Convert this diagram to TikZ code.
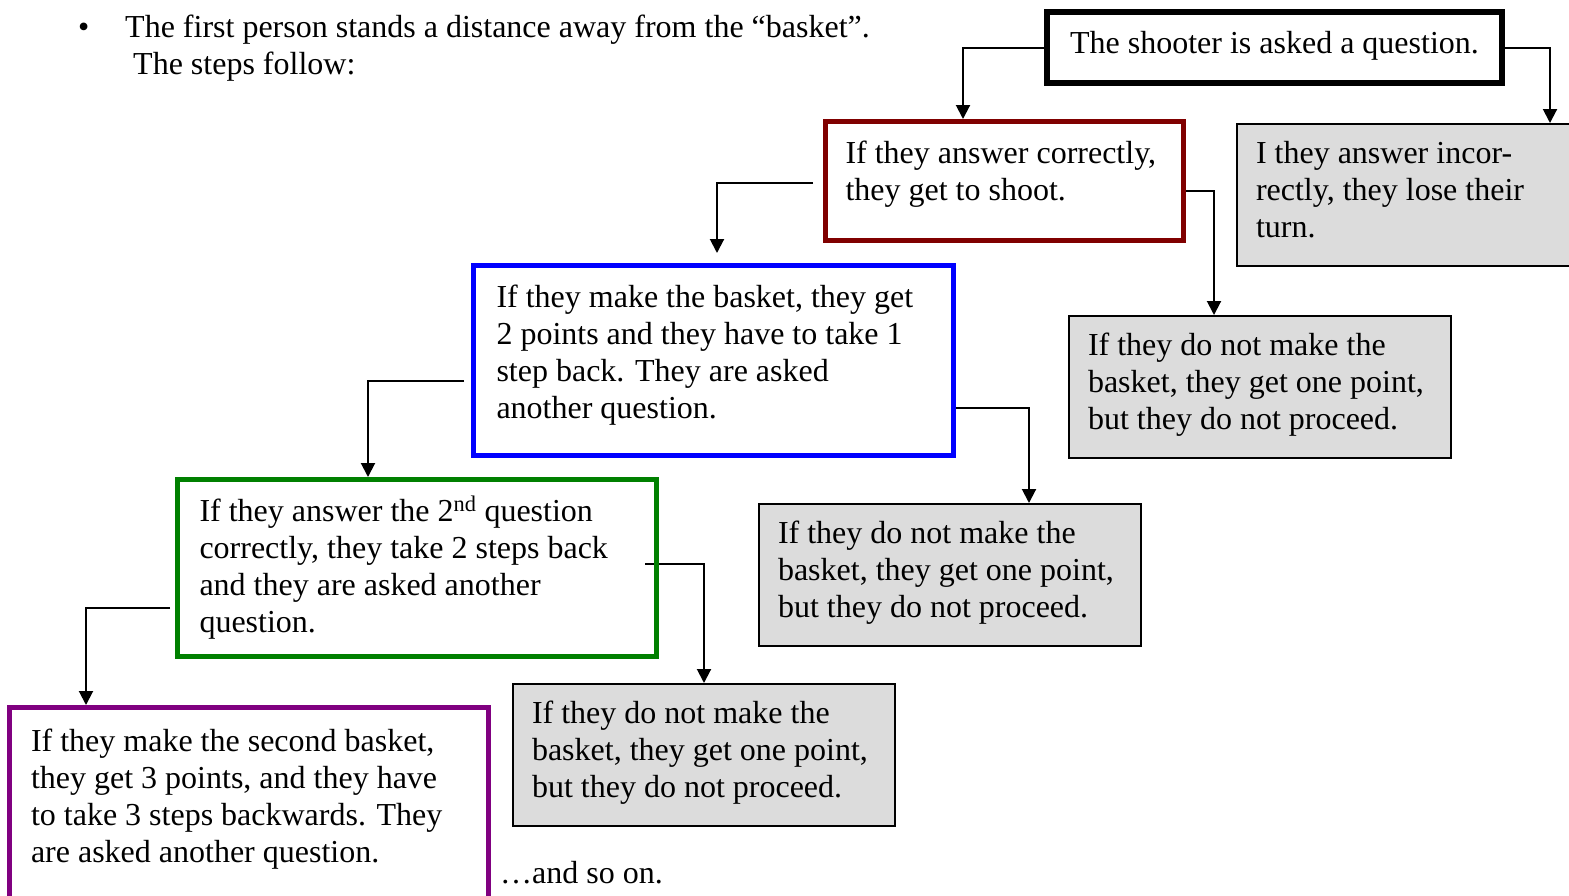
\documentclass[tikz,border=0pt]{standalone}
\usepackage[svgnames]{xcolor}
\usepackage{fontspec}
\setmainfont{Liberation Serif}
\usetikzlibrary{arrows.meta}
\tikzset{>={Triangle[length=14pt,width=14pt]}}
\tikzstyle{none}=[inner sep=0pt]
\tikzstyle{textbox}=[anchor=north west, inner ysep=0pt, align=flush left]
\tikzstyle{shooter}=[anchor=north west, inner sep=0pt, draw=Black, line width=6.000]
\tikzstyle{redbox}=[textbox, draw=Maroon, line width=5.000]
\tikzstyle{bluebox}=[textbox, draw=Blue, line width=5.000]
\tikzstyle{greenbox}=[textbox, draw=Green, line width=5.000]
\tikzstyle{purplebox}=[textbox, draw=Purple, line width=5.000]
\tikzstyle{graybox}=[textbox, draw=Black, fill=Gainsboro, line width=2.000, inner xsep=19pt, text width=344pt, text height=39pt, text depth=103pt]
\tikzstyle{arrow}=[->, draw=Black, line width=2.000]
\pgfdeclarelayer{edgelayer}
\pgfdeclarelayer{nodelayer}
\pgfsetlayers{edgelayer,nodelayer,main}

\begin{document}
\begin{tikzpicture}[x=1pt, y=-1pt, font=\fontsize{32}{37}\selectfont]
	\useasboundingbox (0, 0) rectangle (1569, 895);
	\begin{pgfonlayer}{nodelayer}
		\node [style=shooter, minimum width=455pt, text height=41pt, text depth=30pt] (0) at (1044, 9) {The shooter is asked a question.};
		\node [style=redbox, inner xsep=20pt, text width=318pt, text height=41.5pt, text depth=77.5pt] (1) at (823, 119) {If they answer correctly,\\they get to shoot.};
		\node [style=graybox, text width=406pt] (2) at (1236, 123) {I they answer incor-\\rectly, they lose their\\turn.};
		\node [style=bluebox, inner xsep=23pt, text width=434pt, text height=41.5pt, text depth=148.5pt] (3) at (471, 263) {If they make the basket, they get\\2 points and they have to take 1\\step back.  They are asked\\another question.};
		\node [style=graybox] (4) at (1068, 315) {If they do not make the\\basket, they get one point,\\but they do not proceed.};
		\node [style=greenbox, inner xsep=22pt, text width=435pt, text height=41.5pt, text depth=135.5pt] (5) at (175, 477) {If they answer the 2\textsuperscript{nd} question\\correctly, they take 2 steps back\\and they are asked another\\question.};
		\node [style=graybox] (6) at (758, 503) {If they do not make the\\basket, they get one point,\\but they do not proceed.};
		\node [style=graybox] (7) at (512, 683) {If they do not make the\\basket, they get one point,\\but they do not proceed.};
		\node [style=purplebox, inner xsep=21.5pt, text width=436pt, text height=43.5pt, text depth=206.5pt] (8) at (7, 705) {If they make the second basket,\\they get 3 points, and they have\\to take 3 steps backwards.  They\\are asked another question.};

		\node [style=none, anchor=base west] (23) at (78, 37) {\textbullet};
		\node [style=none, anchor=base west, text width=800pt, align=flush left] (24) at (125, 37) {The first person stands a distance away from the ``basket''.\\\hspace*{8pt}The steps follow:};
		\node [style=none, anchor=base west] (25) at (500, 883) {…and so on.};

		% bends and loose ends of the connectors
		\coordinate (10) at (963, 47.5);
		\coordinate (11) at (1550, 47.5);
		\coordinate (12) at (717, 183);
		\coordinate (13) at (813, 183);
		\coordinate (14) at (717, 253);
		\coordinate (15) at (1214, 191);
		\coordinate (16) at (368, 381);
		\coordinate (17) at (464, 381);
		\coordinate (18) at (1029, 408);
		\coordinate (19) at (86, 608);
		\coordinate (20) at (170, 608);
		\coordinate (21) at (704, 564);
		\coordinate (22) at (645, 564);
	\end{pgfonlayer}
	\begin{pgfonlayer}{edgelayer}
		\draw [style=arrow] (0.west |- 10) -- (10) -- (1.north -| 10);
		\draw [style=arrow] (0.east |- 11) -- (11) -- (2.north -| 11);
		\draw [style=arrow] (13) -- (12) -- (14);
		\draw [style=arrow] (1.east |- 15) -- (15) -- (4.north -| 15);
		\draw [style=arrow] (17) -- (16) -- (5.north -| 16);
		\draw [style=arrow] (3.east |- 18) -- (18) -- (6.north -| 18);
		\draw [style=arrow] (20) -- (19) -- (8.north -| 19);
		\draw [style=arrow] (22) -- (21) -- (7.north -| 21);
	\end{pgfonlayer}
\end{tikzpicture}
\end{document}
